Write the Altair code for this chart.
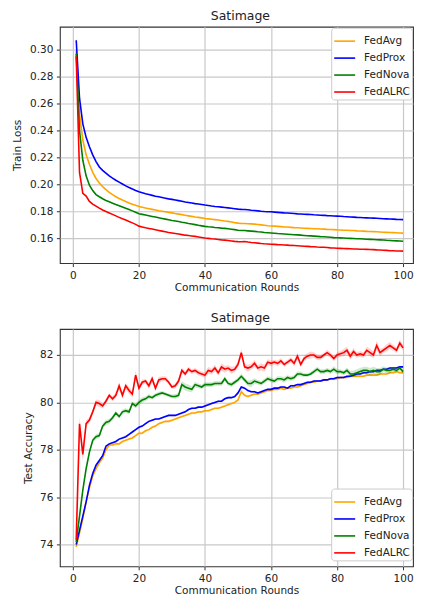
import altair as alt
import pandas as pd

rounds = list(range(1, 101))
methods = ["FedAvg", "FedProx", "FedNova", "FedALRC"]
colors = ["orange", "blue", "green", "red"]

# ---------------- Train loss ----------------
loss_fedavg = [
    .299, .252, .233, .222, .215, .209, .2045, .2012, .1985, .1962,
    .1942, .1925, .1910, .1897, .1885, .1874, .1864, .1855, .1846, .1838,
    .1832, .1826, .1821, .1816, .1811, .1806, .1802, .1798, .1794, .1790,
    .1785, .1781, .1777, .1772, .1768, .1764, .1760, .1757, .1753, .1749,
    .1746, .1743, .1740, .1737, .1734, .1730, .1727, .1723, .1718, .1714,
    .1712, .1711, .1710, .1709, .1707, .1704, .1701, .1698, .1695, .1693,
    .1692, .1690, .1688, .1686, .1685, .1683, .1681, .1680, .1678, .1676,
    .1675, .1674, .1673, .1672, .1671, .1670, .1668, .1667, .1666, .1664,
    .1663, .1662, .1661, .1660, .1659, .1657, .1656, .1655, .1653, .1652,
    .1651, .1650, .1649, .1647, .1646, .1645, .1644, .1643, .1641, .1640,
]
loss_fedprox = [
    .307, .264, .245, .235, .228, .222, .217, .213, .2105, .2085,
    .2065, .2048, .2032, .2018, .2004, .1990, .1978, .1967, .1956, .1946,
    .1939, .1932, .1926, .1920, .1914, .1909, .1904, .1899, .1894, .1890,
    .1886, .1881, .1876, .1871, .1867, .1863, .1859, .1856, .1852, .1848,
    .1845, .1841, .1838, .1836, .1833, .1830, .1827, .1824, .1821, .1818,
    .1816, .1815, .1813, .1810, .1808, .1805, .1802, .1800, .1799, .1798,
    .1796, .1794, .1792, .1790, .1789, .1787, .1785, .1783, .1782, .1780,
    .1779, .1778, .1776, .1775, .1773, .1772, .1770, .1769, .1767, .1766,
    .1765, .1763, .1762, .1760, .1759, .1757, .1756, .1754, .1753, .1752,
    .1751, .1750, .1749, .1747, .1746, .1745, .1744, .1742, .1741, .1740,
]
loss_fednova = [
    .297, .240, .218, .2065, .1995, .1955, .1926, .1910, .1895, .1882,
    .1872, .1862, .1852, .1843, .1834, .1824, .1815, .1805, .1795, .1784,
    .1779, .1774, .1769, .1764, .1759, .1754, .1749, .1744, .1739, .1734,
    .1730, .1726, .1721, .1717, .1712, .1708, .1703, .1698, .1694, .1690,
    .1687, .1685, .1682, .1680, .1677, .1675, .1672, .1669, .1666, .1662,
    .1660, .1659, .1657, .1655, .1653, .1650, .1648, .1645, .1643, .1641,
    .1639, .1637, .1636, .1634, .1632, .1630, .1628, .1627, .1625, .1623,
    .1621, .1620, .1618, .1616, .1614, .1613, .1611, .1609, .1607, .1606,
    .1605, .1604, .1602, .1601, .1600, .1599, .1598, .1597, .1595, .1594,
    .1593, .1591, .1590, .1589, .1587, .1586, .1584, .1583, .1582, .1580,
]
loss_fedalrc = [
    .295, .209, .1935, .1915, .1875, .1855, .1840, .1825, .1812, .1800,
    .1790, .1779, .1768, .1757, .1746, .1737, .1726, .1716, .1705, .1692,
    .1686, .1680, .1675, .1670, .1665, .1660, .1655, .1650, .1645, .1641,
    .1637, .1633, .1629, .1625, .1622, .1619, .1616, .1612, .1608, .1604,
    .1601, .1598, .1596, .1593, .1590, .1588, .1585, .1582, .1579, .1577,
    .1576, .1578, .1574, .1571, .1569, .1566, .1563, .1561, .1560, .1558,
    .1557, .1555, .1554, .1552, .1551, .1549, .1548, .1547, .1545, .1543,
    .1542, .1540, .1539, .1537, .1536, .1535, .1533, .1531, .1530, .1528,
    .1527, .1526, .1525, .1524, .1523, .1522, .1521, .1521, .1520, .1519,
    .1518, .1516, .1515, .1513, .1512, .1510, .1509, .1508, .1508, .1507,
]

# ---------------- Test accuracy ----------------
acc_fedavg = [
    73.9, 74.5, 75.1, 75.8, 76.4, 76.9, 77.2, 77.45, 77.65, 78.0,
    78.2, 78.2, 78.25, 78.25, 78.35, 78.4, 78.45, 78.5, 78.6, 78.7,
    78.7, 78.8, 78.85, 78.95, 79.0, 79.1, 79.15, 79.2, 79.2, 79.25,
    79.3, 79.35, 79.4, 79.45, 79.5, 79.55, 79.55, 79.6, 79.6, 79.65,
    79.65, 79.7, 79.75, 79.75, 79.8, 79.85, 79.9, 79.95, 80.0, 80.1,
    80.45, 80.3, 80.25, 80.3, 80.35, 80.35, 80.4, 80.45, 80.5, 80.5,
    80.55, 80.55, 80.6, 80.55, 80.6, 80.6, 80.65, 80.65, 80.7, 80.75,
    80.8, 80.85, 80.85, 80.9, 80.9, 80.95, 80.95, 81.0, 81.0, 81.0,
    81.05, 81.05, 81.05, 81.1, 81.1, 81.1, 81.1, 81.1, 81.15, 81.15,
    81.15, 81.15, 81.2, 81.2, 81.2, 81.25, 81.25, 81.3, 81.25, 81.25,
]
acc_fedprox = [
    74.0, 74.6, 75.2, 75.8, 76.5, 77.0, 77.35, 77.55, 77.75, 78.15,
    78.25, 78.3, 78.35, 78.45, 78.5, 78.55, 78.65, 78.75, 78.85, 78.95,
    79.0, 79.1, 79.2, 79.25, 79.3, 79.3, 79.35, 79.4, 79.45, 79.45,
    79.45, 79.5, 79.55, 79.6, 79.7, 79.75, 79.75, 79.8, 79.8, 79.85,
    79.9, 79.95, 80.0, 80.05, 80.05, 80.15, 80.2, 80.2, 80.25, 80.4,
    80.65, 80.6, 80.5, 80.45, 80.45, 80.4, 80.45, 80.5, 80.55, 80.55,
    80.6, 80.6, 80.65, 80.65, 80.6, 80.7, 80.7, 80.75, 80.75, 80.8,
    80.85, 80.85, 80.9, 80.9, 80.9, 80.95, 80.95, 81.0, 81.0, 81.05,
    81.05, 81.05, 81.1, 81.1, 81.15, 81.2, 81.2, 81.25, 81.25, 81.3,
    81.3, 81.35, 81.35, 81.4, 81.4, 81.45, 81.45, 81.45, 81.5, 81.5,
]
acc_fednova = [
    74.1, 75.2, 76.3, 77.2, 77.9, 78.4, 78.55, 78.6, 79.0, 79.15,
    79.2, 79.35, 79.55, 79.4, 79.6, 79.65, 79.6, 79.95, 79.85, 80.0,
    80.1, 80.15, 80.25, 80.2, 80.3, 80.35, 80.4, 80.35, 80.3, 80.25,
    80.25, 80.3, 80.75, 80.65, 80.6, 80.55, 80.75, 80.7, 80.65, 80.75,
    80.75, 80.75, 80.8, 80.8, 80.8, 81.0, 80.8, 80.75, 80.85, 80.95,
    81.1, 80.95, 80.8, 80.8, 80.9, 80.85, 80.8, 80.9, 81.0, 80.95,
    80.9, 81.0, 81.0, 80.95, 81.05, 81.0, 81.05, 81.2, 81.2, 81.15,
    81.15, 81.2, 81.3, 81.4, 81.3, 81.3, 81.35, 81.3, 81.4, 81.3,
    81.3, 81.25, 81.35, 81.2, 81.2, 81.25, 81.3, 81.35, 81.35, 81.3,
    81.35, 81.3, 81.3, 81.4, 81.35, 81.35, 81.4, 81.35, 81.45, 81.3,
]
acc_fedalrc = [
    74.2, 79.1, 77.8, 79.1, 79.25, 79.6, 80.0, 79.95, 79.85, 80.05,
    80.3, 80.15, 80.3, 80.7, 80.3, 80.7, 80.5, 80.35, 81.15, 80.6,
    80.85, 80.9, 80.7, 81.0, 80.6, 80.95, 81.0, 81.0, 80.85, 80.65,
    80.7, 80.9, 81.35, 81.2, 81.4, 81.3, 81.35, 81.25, 81.2, 81.15,
    81.35, 81.3, 81.45, 81.25, 81.5, 81.4, 81.45, 81.35, 81.4, 81.6,
    82.1, 81.5, 81.45, 81.5, 81.65, 81.45, 81.5, 81.45, 81.7, 81.65,
    81.7, 81.65, 81.75, 81.6, 81.7, 81.8, 81.65, 81.95, 81.6, 81.85,
    81.95, 82.0, 82.0, 81.9, 81.9, 82.0, 82.1, 82.0, 81.85, 82.0,
    82.05, 82.1, 82.2, 81.95, 82.15, 82.0, 82.05, 82.0, 82.2, 82.1,
    82.0, 82.4, 82.1, 82.2, 82.3, 82.4, 82.3, 82.2, 82.5, 82.3,
]

# half-widths of the shaded bands around the accuracy curves
band_fedavg = [
    .15, .1, .08, .08, .07, .06, .06, .06, .06, .06,
    .05, .05, .06, .06, .06, .05, .05, .06, .06, .07,
    .06, .05, .05, .05, .05, .05, .05, .05, .05, .05,
    .05, .05, .05, .05, .05, .05, .05, .05, .05, .05,
    .05, .05, .05, .05, .05, .05, .05, .05, .05, .06,
    .06, .05, .05, .05, .05, .05, .05, .05, .05, .05,
    .05, .05, .05, .05, .05, .05, .05, .05, .05, .05,
    .05, .05, .05, .05, .05, .05, .05, .05, .05, .05,
    .05, .05, .05, .05, .05, .05, .05, .05, .05, .05,
    .05, .05, .05, .05, .05, .05, .05, .05, .05, .05,
]
band_fedprox = [
    .08, .06, .05, .05, .05, .05, .05, .05, .05, .05,
    .04, .04, .04, .04, .04, .04, .04, .04, .04, .04,
    .04, .04, .04, .04, .04, .04, .04, .04, .04, .04,
    .04, .04, .04, .04, .04, .04, .04, .04, .04, .04,
    .04, .04, .04, .04, .04, .04, .04, .04, .04, .05,
    .05, .04, .04, .04, .04, .04, .04, .04, .04, .04,
    .04, .04, .04, .04, .04, .04, .04, .04, .04, .04,
    .04, .04, .04, .04, .04, .04, .04, .04, .04, .04,
    .04, .04, .04, .04, .04, .04, .04, .04, .04, .04,
    .04, .04, .04, .04, .04, .04, .04, .04, .04, .04,
]
band_fednova = [
    .15, .1, .08, .08, .08, .1, .12, .1, .1, .12,
    .1, .1, .1, .08, .1, .1, .1, .1, .1, .12,
    .12, .1, .1, .08, .08, .1, .08, .08, .08, .08,
    .1, .1, .15, .15, .15, .12, .12, .1, .1, .1,
    .1, .1, .1, .1, .1, .1, .1, .1, .1, .1,
    .12, .1, .12, .15, .12, .1, .1, .1, .1, .1,
    .1, .1, .1, .12, .1, .1, .1, .1, .1, .08,
    .08, .08, .1, .1, .1, .1, .1, .1, .12, .12,
    .1, .1, .12, .12, .15, .15, .15, .15, .15, .15,
    .15, .15, .15, .12, .12, .12, .1, .1, .1, .1,
]
band_fedalrc = [
    .25, .3, .3, .15, .12, .1, .12, .15, .1, .1,
    .1, .1, .12, .15, .15, .12, .15, .15, .2, .12,
    .12, .1, .12, .15, .1, .12, .1, .1, .1, .08,
    .1, .12, .12, .1, .1, .1, .1, .12, .1, .12,
    .15, .12, .15, .12, .15, .15, .12, .15, .12, .15,
    .15, .12, .15, .12, .15, .12, .15, .15, .12, .12,
    .1, .12, .12, .1, .1, .12, .12, .15, .12, .12,
    .12, .15, .12, .12, .1, .1, .12, .12, .1, .12,
    .12, .15, .15, .15, .15, .12, .12, .12, .15, .15,
    .15, .2, .15, .12, .15, .15, .12, .12, .15, .12,
]

loss_series = [loss_fedavg, loss_fedprox, loss_fednova, loss_fedalrc]
acc_series = [acc_fedavg, acc_fedprox, acc_fednova, acc_fedalrc]
band_series = [band_fedavg, band_fedprox, band_fednova, band_fedalrc]

rows_loss = []
rows_acc = []
for m, ls, acs, bs in zip(methods, loss_series, acc_series, band_series):
    for r, l, a, b in zip(rounds, ls, acs, bs):
        rows_loss.append({"round": r, "method": m, "loss": l})
        rows_acc.append({"round": r, "method": m, "acc": a, "lo": a - b, "hi": a + b})
df_loss = pd.DataFrame(rows_loss)
df_acc = pd.DataFrame(rows_acc)

FONT = "DejaVu Sans"
W = 354
H_TOP = 237
H_BOT = 238
cscale = alt.Scale(domain=methods, range=colors)
xscale = alt.Scale(domain=[-3.95, 103.0], nice=False, zero=False)
xaxis = alt.Axis(values=[0, 20, 40, 60, 80, 100], title="Communication Rounds",
                 format="d", titlePadding=2)


def legend(y):
    return alt.Legend(title=None, orient="none", legendX=272, legendY=y, padding=2,
                      strokeColor="#cccccc", fillColor="white",
                      cornerRadius=3, symbolType="stroke", symbolSize=441,
                      symbolStrokeWidth=1.6, labelFont=FONT, labelFontSize=10.5,
                      labelColor="#222222", labelOffset=8, rowPadding=-6.3)


# top panel
top_layers = []
for m in methods:
    top_layers.append(
        alt.Chart(df_loss).transform_filter(alt.datum.method == m)
        .mark_line(strokeWidth=1.6, clip=True)
        .encode(
            x=alt.X("round:Q", scale=xscale, axis=xaxis),
            y=alt.Y("loss:Q",
                    scale=alt.Scale(domain=[0.1418, 0.3170], nice=False, zero=False),
                    axis=alt.Axis(values=[0.16, 0.18, 0.20, 0.22, 0.24, 0.26, 0.28, 0.30],
                                  format=".2f", title="Train Loss", titlePadding=7)),
            color=alt.Color("method:N", scale=cscale, legend=legend(1)),
        )
    )
top = alt.layer(*top_layers).properties(
    width=W, height=H_TOP, title=alt.TitleParams("Satimage", dx=4))

# bottom panel
bot_layers = []
yacc = alt.Scale(domain=[73.08, 83.1], nice=False, zero=False)
yaxis_acc = alt.Axis(values=[74, 76, 78, 80, 82], format="d",
                     title="Test Accuracy", titlePadding=6)
for m, c in zip(methods, colors):
    bot_layers.append(
        alt.Chart(df_acc).transform_filter(alt.datum.method == m)
        .mark_area(opacity=0.18, clip=True, color=c)
        .encode(
            x=alt.X("round:Q", scale=xscale, axis=xaxis),
            y=alt.Y("lo:Q", scale=yacc, axis=yaxis_acc),
            y2="hi:Q",
        )
    )
    bot_layers.append(
        alt.Chart(df_acc).transform_filter(alt.datum.method == m)
        .mark_line(strokeWidth=1.6, clip=True)
        .encode(
            x=alt.X("round:Q", scale=xscale, axis=xaxis),
            y=alt.Y("acc:Q", scale=yacc, axis=yaxis_acc),
            color=alt.Color("method:N", scale=cscale,
                            legend=legend(H_BOT - 78)),
        )
    )
bottom = alt.layer(*bot_layers).properties(
    width=W, height=H_BOT, title=alt.TitleParams("Satimage", dx=4))

chart = (
    alt.vconcat(top, bottom, spacing=66, bounds="flush")
    .resolve_scale(color="independent")
    .properties(padding={"left": 4, "top": 0, "right": 0, "bottom": 0})
    .configure_view(stroke="#333333", strokeWidth=1.1)
    .configure_axis(
        grid=True, gridColor="#c8c8c8", gridWidth=1.2, domain=False,
        tickColor="#333333", tickSize=3.5, tickWidth=1,
        labelFont=FONT, labelFontSize=10.5, labelColor="#222222", labelPadding=3.5,
        labelFlush=False,
        titleFont=FONT, titleFontSize=10.5, titleFontWeight="normal", titleColor="#222222",
    )
    .configure_title(font=FONT, fontSize=12.5, fontWeight="normal", color="#222222",
                     offset=0, anchor="middle")
)

chart.save("out.html", embed_options={"renderer": "svg", "actions": False})
